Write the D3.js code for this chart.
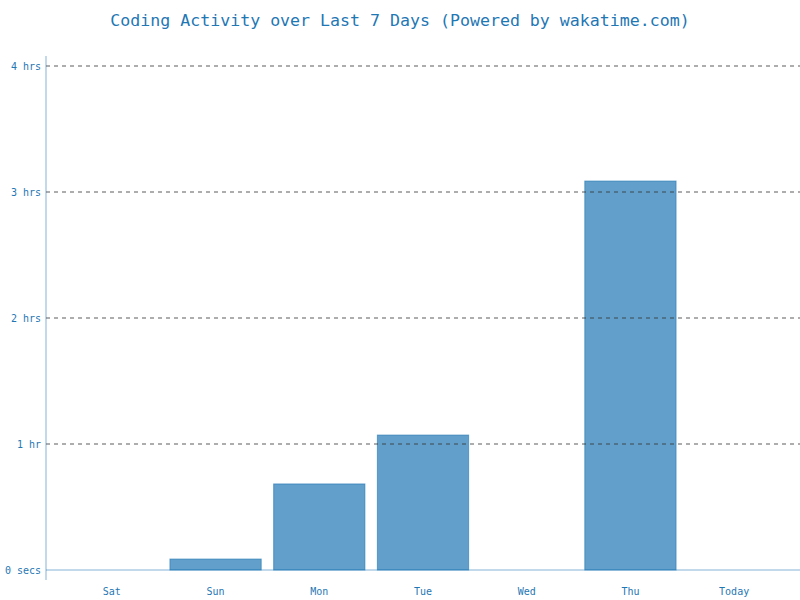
<!DOCTYPE html>
<html>
<head>
<meta charset="utf-8">
<script src="https://cdn.jsdelivr.net/npm/d3@7"></script>
<style>
  body { margin: 0; background: #fff; }
  text { font-family: "DejaVu Sans Mono", monospace; fill: #1f77b4; }
</style>
</head>
<body>
<div id="chart"></div>
<script>
// days and hours coded
const days = ["Sat", "Sun", "Mon", "Tue", "Wed", "Thu", "Today"];
const hours = [0, 0.087, 0.683, 1.071, 0, 3.087, 0];
const yTicks = [0, 1, 2, 3, 4];
const yTickLabels = ["0 secs", "1 hr", "2 hrs", "3 hrs", "4 hrs"];

const width = 800, height = 600;
const margin = {top: 66, right: 0, bottom: 30, left: 46};

const svg = d3.select("#chart").append("svg")
    .attr("width", width)
    .attr("height", height);

svg.append("text")
    .attr("x", width / 2)
    .attr("y", 26)
    .attr("text-anchor", "middle")
    .style("font-size", "16.6px")
    .text("Coding Activity over Last 7 Days (Powered by wakatime.com)");

const x = d3.scaleBand()
    .domain(days)
    .range([60, 786])
    .paddingInner(0.12)
    .paddingOuter(0.06);

const y = d3.scaleLinear()
    .domain([0, 4])
    .range([height - margin.bottom, margin.top]);

// bars
svg.append("g").selectAll("rect")
    .data(days)
    .join("rect")
    .attr("x", d => x(d))
    .attr("width", x.bandwidth())
    .attr("y", (d, i) => y(hours[i]))
    .attr("height", (d, i) => y(0) - y(hours[i]))
    .attr("fill", "#629fca")
    .attr("stroke", "#1f77b4")
    .attr("stroke-opacity", 0.6)
    .attr("stroke-width", 1);

// dashed guides, drawn over the bars
svg.append("g").selectAll("line")
    .data(yTicks.filter(t => t > 0))
    .join("line")
    .attr("x1", margin.left)
    .attr("x2", width)
    .attr("y1", d => y(d))
    .attr("y2", d => y(d))
    .attr("stroke", "#333")
    .attr("stroke-opacity", 0.8)
    .attr("stroke-dasharray", "4,4");

// axis lines
svg.append("line")
    .attr("x1", margin.left).attr("x2", margin.left)
    .attr("y1", 56).attr("y2", 580)
    .attr("stroke", "#1f77b4").attr("stroke-opacity", 0.55);

svg.append("line")
    .attr("x1", margin.left).attr("x2", width)
    .attr("y1", y(0)).attr("y2", y(0))
    .attr("stroke", "#1f77b4").attr("stroke-opacity", 0.55);

// y labels
svg.append("g").selectAll("text")
    .data(yTicks)
    .join("text")
    .attr("x", margin.left - 5)
    .attr("y", d => y(d) + 3.5)
    .attr("text-anchor", "end")
    .style("font-size", "10px")
    .text((d, i) => yTickLabels[i]);

// x labels
svg.append("g").selectAll("text")
    .data(days)
    .join("text")
    .attr("x", d => x(d) + x.bandwidth() / 2)
    .attr("y", 595)
    .attr("text-anchor", "middle")
    .style("font-size", "10px")
    .text(d => d);
</script>
</body>
</html>
